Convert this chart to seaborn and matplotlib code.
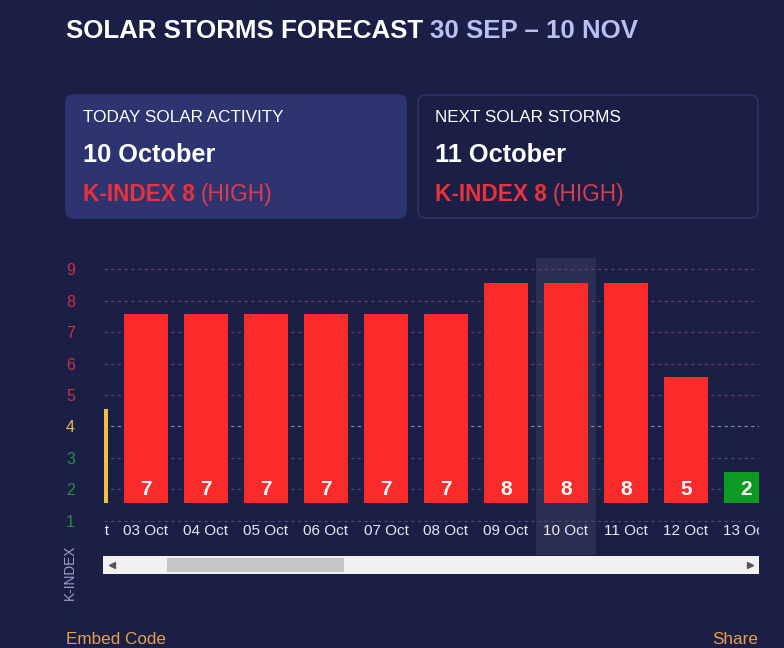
import matplotlib
matplotlib.use("Agg")
import matplotlib.pyplot as plt
import seaborn as sns
import pandas as pd
from matplotlib.patches import FancyBboxPatch

# data
days = ["02 Oct", "03 Oct", "04 Oct", "05 Oct", "06 Oct", "07 Oct",
        "08 Oct", "09 Oct", "10 Oct", "11 Oct", "12 Oct", "13 Oct"]
kindex = [4, 7, 7, 7, 7, 7, 7, 8, 8, 8, 5, 2]
today = "10 Oct"
levels = [1, 2, 3, 4, 5, 6, 7, 8, 9]

title_main = "SOLAR STORMS FORECAST"
title_range = "30 SEP \u2013 10 NOV"
card_titles = ["TODAY SOLAR ACTIVITY", "NEXT SOLAR STORMS"]
card_dates = ["10 October", "11 October"]
card_kindex = [8, 8]
card_levels = ["HIGH", "HIGH"]

BG = "#1b1f45"
RED = "#fb2b2b"
YELLOW = "#f0c040"
GREEN = "#0e9a22"


def level_color(k):
    if k >= 5:
        return RED
    if k == 4:
        return YELLOW
    return GREEN


def tick_color(k):
    if k >= 5:
        return "#c8324c"
    if k == 4:
        return "#e8bb50"
    return "#2a8c48"


def grid_color(k):
    if k >= 5:
        return "#6a3e6a"
    if k == 4:
        return "#8a8ca8"
    return "#46506a"


sns.set_theme(style="dark", rc={"axes.facecolor": BG, "figure.facecolor": BG})
plt.rcParams["font.family"] = ["Liberation Sans", "DejaVu Sans"]

W, H = 784, 648
fig = plt.figure(figsize=(W / 100, H / 100), dpi=100)

# chrome layer in pixel coordinates
bg = fig.add_axes([0, 0, 1, 1], zorder=-1)
bg.set_xlim(0, W)
bg.set_ylim(H, 0)
bg.axis("off")

t1 = bg.text(66, 38, title_main + " ", color="white", fontsize=18.6,
             fontweight="bold", va="baseline")
bg.annotate(title_range, xy=(1, 0), xycoords=t1, va="bottom",
            color="#b8c0f4", fontsize=18.6, fontweight="bold")

card_x = [66, 418]
for i in range(2):
    x0 = card_x[i]
    face = "#2d3470" if i == 0 else BG
    edge = "#2d3470" if i == 0 else "#2e3462"
    bg.add_patch(FancyBboxPatch((x0, 95), 340, 123,
                                boxstyle="round,pad=0,rounding_size=8",
                                facecolor=face, edgecolor=edge, lw=1.2))
    bg.text(x0 + 17, 122.5, card_titles[i], color="white", fontsize=12.3,
            va="baseline")
    bg.text(x0 + 17, 162, card_dates[i], color="white", fontsize=18.3,
            fontweight="bold", va="baseline")
    k1 = bg.text(x0 + 17, 201, "K-INDEX %d " % card_kindex[i], color="#e8323c",
                 fontsize=16.3, fontweight="bold", va="baseline")
    bg.annotate("(%s)" % card_levels[i], xy=(1, 0), xycoords=k1, va="bottom",
                color="#dc3c50", fontsize=16.3)

bg.text(70, 572, "K-INDEX", rotation=90, color="#9aa0c8", fontsize=9.8,
        ha="center", va="center")
bg.text(66, 644, "Embed Code", color="#e6a04a", fontsize=12.3, va="baseline")
bg.text(758, 644, "Share", color="#e6a04a", fontsize=12.3, va="baseline",
        ha="right")

# main bar chart
ax = fig.add_axes([104 / W, 1 - 555 / H, 655 / W, 297 / H])
ax.set_facecolor("none")

BASE = 1.57  # bars start a little above level 1
df = pd.DataFrame({"day": days, "k": kindex})
df["height"] = df["k"] - 1
palette = {d: level_color(k) for d, k in zip(days, kindex)}
sns.barplot(data=df, x="day", y="height", hue="day", palette=palette,
            legend=False, width=0.733, bottom=BASE, saturation=1,
            linewidth=0, edgecolor="none", ax=ax, zorder=3)

ti = days.index(today)
ax.axvspan(ti - 0.5, ti + 0.5, color="white", alpha=0.07, lw=0, zorder=1)

for k in levels:
    ax.axhline(k, color=grid_color(k), lw=0.8, ls=(0, (3, 3)), zorder=2)

for i, (d, k) in enumerate(zip(days, kindex)):
    ax.annotate(str(k), xy=(i, BASE), xytext=(0, 10), textcoords="offset points",
                ha="center", va="center", color="white", fontsize=15,
                fontweight="bold", zorder=4)
    ax.annotate(d, xy=(i, 1), xytext=(0, -7.5), textcoords="offset points",
                ha="center", va="center", color="#e6e8f4", fontsize=11,
                annotation_clip=False, clip_on=True, zorder=4)

ax.set_xlim(0.3, 11.217)
ax.set_ylim(-0.08, 9.35)
ax.set_xticks([])
ax.set_yticks(levels)
ax.set_yticklabels([str(k) for k in levels], fontsize=11.5)
for lbl, k in zip(ax.get_yticklabels(), levels):
    lbl.set_color(tick_color(k))
ax.tick_params(axis="y", length=0, pad=21)
ax.set_xlabel("")
ax.set_ylabel("")
for s in ax.spines.values():
    s.set_visible(False)
ax.grid(False)

# scrollbar under the chart
sb = fig.add_axes([103 / W, 1 - 574 / H, 656 / W, 18 / H])
sb.set_facecolor("#f1f1f1")
sb.set_xlim(0, 1)
sb.set_ylim(0, 1)
sb.axvspan(0.0976, 0.367, ymin=0.11, ymax=0.89, color="#c5c5c5", lw=0)
sb.plot([0.014], [0.5], marker="<", ms=4, color="#555555")
sb.plot([0.986], [0.5], marker=">", ms=4, color="#555555")
sb.set_xticks([])
sb.set_yticks([])
for s in sb.spines.values():
    s.set_visible(False)

fig.savefig("out.png", dpi=100, facecolor=BG)
